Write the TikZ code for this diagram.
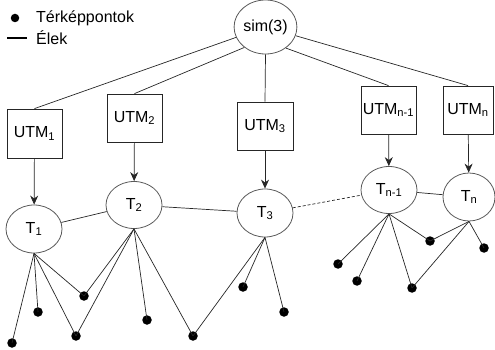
\documentclass[tikz,border=0pt]{standalone}
\usepackage{fontspec}
\setmainfont{Liberation Sans}
\usetikzlibrary{shapes.geometric,arrows.meta}
\tikzset{
  ell/.style={ellipse,draw=black!65,line width=0.8pt,inner sep=0pt,minimum width=56pt,minimum height=48pt,font=\fontsize{16}{19}\selectfont},
  box/.style={rectangle,draw=black!85,line width=0.8pt,inner sep=0pt,minimum width=55pt,minimum height=48pt,font=\fontsize{16}{19}\selectfont},
  dot/.style={circle,fill=black,inner sep=0pt,minimum size=9.5pt},
  ln/.style={draw=black!85,line width=0.7pt},
  arr/.style={ln,-{Stealth[length=9pt,width=8pt]}},
  lbl/.style={anchor=west,inner sep=0pt,font=\fontsize{16}{19}\selectfont}
}
\begin{document}
\begin{tikzpicture}[x=1pt,y=-1pt]
\useasboundingbox (0,0) rectangle (495,350);
% legend
\node[dot,minimum size=8.5pt] (ld) at (15,18) {};
\node[lbl] (lt1) at (36,18) {Térképpontok};
\coordinate (la) at (7,38);
\coordinate (lb) at (27,38);
\draw[ln,line width=1.6pt,draw=black] (la) -- (lb);
\node[lbl] (lt2) at (36,38) {Élek};
% top
\node[ell,minimum width=55pt,minimum height=54pt] (sim) at (265.5,27) {sim(3)};
% boxes
\node[box,minimum height=49pt] (u1) at (34.5,133.5) {UTM\textsubscript{1}};
\node[box] (u2) at (134.5,118) {UTM\textsubscript{2}};
\node[box,minimum width=56pt] (u3) at (265,126) {UTM\textsubscript{3}};
\node[box] (un1) at (388.5,110) {UTM\textsubscript{n-1}};
\node[box,minimum width=50pt] (un) at (468,110) {UTM\textsubscript{n}};
% ellipses
\node[ell] (t1) at (34,229) {T\textsubscript{1}};
\node[ell,minimum height=47pt] (t2) at (134,205) {T\textsubscript{2}};
\node[ell] (t3) at (265,213) {T\textsubscript{3}};
\node[ell,minimum height=47pt] (tn1) at (389,190) {T\textsubscript{n-1}};
\node[ell,minimum width=52pt] (tn) at (469,197) {T\textsubscript{n}};
% sim connectors
\draw[ln] (sim) -- (u1.north);
\draw[ln] (sim.224) -- (u2.north);
\draw[ln] (sim.south) -- (u3.north);
\draw[ln] (sim.314) -- (un1.north);
\draw[ln] (sim) -- (un.north);
% arrows
\draw[arr] (u1) -- (t1);
\draw[arr] (u2) -- (t2);
\draw[arr] (u3) -- (t3);
\draw[arr] (un1) -- (tn1);
\draw[arr] (un) -- (tn);
% T links
\draw[ln] (t1) -- (t2);
\draw[ln] (t2) -- (t3);
\draw[ln,dashed,dash pattern=on 3pt off 2pt] (t3) -- (tn1);
\draw[ln] (tn1) -- (tn);
% dots
\node[dot] (d1) at (12,343) {};
\node[dot] (d2) at (38,312) {};
\node[dot] (d3) at (76,336) {};
\node[dot] (d4) at (84,296) {};
\node[dot] (d5) at (147,320) {};
\node[dot] (d6) at (193,336) {};
\node[dot] (d7) at (243,287) {};
\node[dot] (d8) at (284,312) {};
\node[dot] (d9) at (338,264) {};
\node[dot] (d10) at (357,281) {};
\node[dot] (d11) at (412,288) {};
\node[dot] (d12) at (430,241) {};
\node[dot] (d13) at (484,248) {};
% dot edges
\foreach \d in {d1,d2,d3,d4} \draw[ln] (t1.south) -- (\d.center);
\foreach \d in {d4,d3,d5,d6} \draw[ln] (t2.south) -- (\d.center);
\foreach \d in {d6,d7,d8} \draw[ln] (t3.south) -- (\d.center);
\foreach \d in {d9,d10,d11,d12} \draw[ln] (tn1.south) -- (\d.center);
\foreach \d in {d12,d11,d13} \draw[ln] (tn.south) -- (\d.center);
\end{tikzpicture}
\end{document}
